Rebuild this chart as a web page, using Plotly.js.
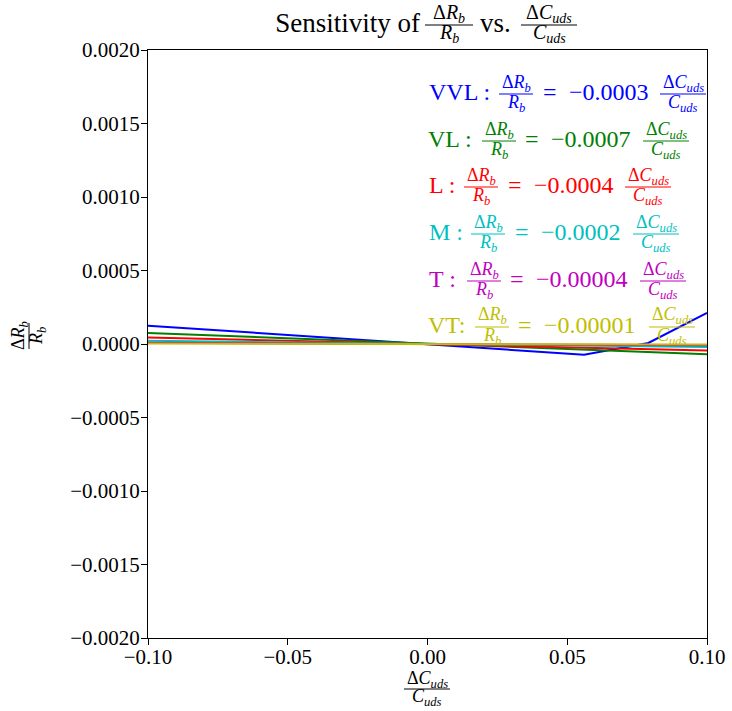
<!DOCTYPE html>
<html><head><meta charset="utf-8">
<script src="https://cdn.plot.ly/plotly-3.0.1.min.js"></script>
<style>html,body{margin:0;padding:0;background:#fff}</style>
</head><body><div id="chart" style="width:732px;height:711px"></div>
<script>
// ---- data ----
const xVVL = [-0.1, 0, 0.056, 0.079, 0.1];
const yVVL = [0.000125, 0, -0.000073, 0.000007, 0.000211];
const xOther = [-0.1, 0, 0.1];
const yVL = [0.000075, 0, -0.00007];
const yL  = [0.000045, 0, -0.000045];
const yM  = [0.000022, 0, -0.00002];
const yT  = [0.000009, 0, -0.000009];
const yVT = [0.000003, 0, -0.000003];
const seriesNames = ['VVL', 'VL', 'L', 'M', 'T', 'VT'];
const coefLabels = ['\u22120.0003', '\u22120.0007', '\u22120.0004', '\u22120.0002', '\u22120.00004', '\u22120.00001'];
const nameLabels = ['VVL : ', 'VL : ', 'L : ', 'M : ', 'T : ', 'VT: '];
const xTickFormat = '.2f';
const yTickFormat = '.4f';

// ---- styles ----
const colors = ['#0000ff', '#008000', '#ff0000', '#00bfbf', '#bf00bf', '#bfbf00'];
const FONT = 'Liberation Serif, DejaVu Serif, serif';
const PL = 148, PR = 707, PT = 50, PB = 638;
function px(x) { return (x - PL) / (PR - PL); }
function py(y) { return (PB - y) / (PB - PT); }

const numR = '\u0394<i>R</i><sub><i>b</i></sub>';
const denR = '<i>R</i><sub><i>b</i></sub>';
const numC = '\u0394<i>C</i><sub><i>uds</i></sub>';
const denC = '<i>C</i><sub><i>uds</i></sub>';

const annotations = [];
const shapes = [];

function addText(x, y, text, size, color, xanchor, angle) {
  annotations.push({xref: 'paper', yref: 'paper', x: px(x), y: py(y), text: text,
    xanchor: xanchor || 'center', yanchor: 'middle', showarrow: false, textangle: angle || 0,
    font: {family: FONT, size: size, color: color}, borderpad: 0});
}
function addFrac(cx, cy, num, den, size, color, barLen, dyN, dyD, rotated) {
  if (!rotated) {
    addText(cx, cy - dyN, num, size, color, 'center');
    addText(cx, cy + dyD, den, size, color, 'center');
    shapes.push({type: 'line', xref: 'paper', yref: 'paper', x0: px(cx - barLen / 2), x1: px(cx + barLen / 2),
      y0: py(cy), y1: py(cy), line: {color: color, width: 1}});
  } else {
    addText(cx - dyN, cy, num, size, color, 'center', -90);
    addText(cx + dyD, cy, den, size, color, 'center', -90);
    shapes.push({type: 'line', xref: 'paper', yref: 'paper', x0: px(cx), x1: px(cx),
      y0: py(cy - barLen / 2), y1: py(cy + barLen / 2), line: {color: color, width: 1}});
  }
}

// legend rows: [nameLeft, frac1Center, eqCenter, coefLeft, frac2Center, barY]
const rowPos = [
  [428, 516, 550, 568, 683, 94],
  [427, 499, 532, 550, 666, 141],
  [428, 481, 515, 533, 648, 187],
  [428, 488, 522, 540, 656, 234],
  [428, 484, 517, 535, 663, 281],
  [427, 492, 525, 543, 672, 327]
];
seriesNames.forEach((n, i) => {
  const p = rowPos[i], c = colors[i];
  addText(p[0], p[5] - 2, nameLabels[i], 24, c, 'left');
  addFrac(p[1], p[5], numR, denR, 18, c, 34, 11, 9, false);
  addText(p[2], p[5] - 2, '=', 24, c, 'center');
  addText(p[3], p[5] - 2, coefLabels[i], 24, c, 'left');
  addFrac(p[4], p[5], numC, denC, 18, c, 46, 11, 9, false);
});

// title fractions
addFrac(449, 25, numR, denR, 20, 'black', 48, 11, 9, false);
addText(495, 23, 'vs.', 27, 'black', 'center');
addFrac(549, 25, numC, denC, 20, 'black', 56, 11, 9, false);
// axis titles
addFrac(427, 689, numC, denC, 18, 'black', 46, 10, 8, false);
addFrac(29, 336, numR, denR, 18, 'black', 26, 10, 8, true);

const ys = [yVVL, yVL, yL, yM, yT, yVT];
const traces = seriesNames.map((n, i) => ({
  x: i === 0 ? xVVL : xOther, y: ys[i], type: 'scatter', mode: 'lines', name: n,
  line: {color: colors[i], width: 2}
}));

const axisCommon = {
  showline: true, mirror: true, linecolor: 'black', linewidth: 1,
  ticks: 'outside', ticklen: 6, tickcolor: 'black', tickwidth: 1,
  showgrid: false, zeroline: false,
  tickfont: {family: FONT, size: 21, color: 'black'}
};

const layout = {
  width: 732, height: 711,
  margin: {l: 148, r: 25, t: 50, b: 73},
  paper_bgcolor: 'white', plot_bgcolor: 'white',
  showlegend: false,
  title: {text: 'Sensitivity of', font: {family: FONT, size: 27, color: 'black'},
    xref: 'container', yref: 'container', x: 420 / 732, xanchor: 'right', y: 1 - 23 / 711, yanchor: 'middle'},
  xaxis: Object.assign({}, axisCommon, {range: [-0.1, 0.1], dtick: 0.05, tick0: 0, tickformat: xTickFormat, ticklabelstandoff: -6}),
  yaxis: Object.assign({}, axisCommon, {range: [-0.002, 0.002], dtick: 0.0005, tick0: 0, tickformat: yTickFormat, ticklabelstandoff: -3}),
  annotations: annotations,
  shapes: shapes
};

Plotly.newPlot('chart', traces, layout, {displayModeBar: false, staticPlot: true});
</script>
</body></html>
